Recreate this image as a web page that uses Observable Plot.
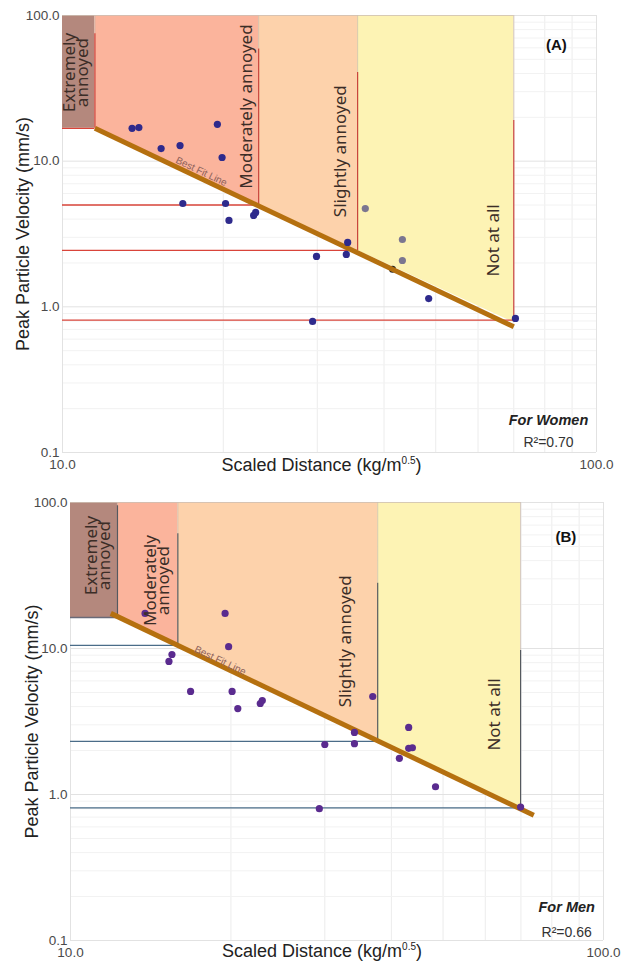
<!DOCTYPE html>
<html><head><meta charset="utf-8">
<script src="https://cdn.jsdelivr.net/npm/d3@7"></script>
<script src="https://cdn.jsdelivr.net/npm/@observablehq/plot@0.6"></script>
<style>
body{margin:0;background:#fff;width:624px;overflow:hidden}
.panel{width:624px;display:block;line-height:0}
</style>
</head><body>
<div id="panelA" class="panel"></div>
<div id="panelB" class="panel"></div>
<script>
// ---------- shared ----------
const zoneNames = ["Extremely annoyed", "Moderately annoyed", "Slightly annoyed", "Not at all"];
const zoneColors = ["#b4887d", "#fbb49c", "#fdd2ab", "#fdf3b4"];
const yTicks = [0.1, 1, 10, 100];
const xTicks = [10, 100];
const xMinor = [20, 30, 40, 50, 60, 70, 80, 90];
const yMinor = [0.2, 0.3, 0.4, 0.5, 0.6, 0.7, 0.8, 0.9, 2, 3, 4, 5, 6, 7, 8, 9, 20, 30, 40, 50, 60, 70, 80, 90];

// ---------- Panel A : women ----------
const womenZoneX0 = [10, 11.5, 23.3, 35.7];
const womenZoneX1 = [11.5, 23.3, 35.7, 70];
const womenZoneLow0 = [16.8, 16.8, 5.0, 2.44];
const womenZoneLow1 = [16.8, 5.0, 2.44, 0.78];
const womenRefY = [16.8, 5.0, 2.44, 0.81];
const womenRefXEnd = [11.5, 23.3, 35.7, 70];
const womenRefTop = [75, 59, 40.6, 19];
const womenLabelText = ["Extremely\nannoyed", "Moderately annoyed", "Slightly annoyed", "Not at all"];
const womenLabelX = [10.67, 22.2, 33.4, 64.4];
const womenLabelY = [40.6, 23.7, 11.7, 2.86];
const womenFitSD = [11.5, 70];
const womenFitPPV = [16.8, 0.73];
const womenSD  = [13.5, 13.9, 15.3, 16.6, 19.5, 19.9, 16.8, 20.2, 20.5, 22.8, 23.0, 36.9, 34.2, 34.0, 29.9, 43.3, 43.3, 48.5, 29.4, 70.5];
const womenPPV = [16.8, 17.0, 12.2, 12.8, 17.9, 10.6, 5.12, 5.12, 3.92, 4.24, 4.45, 4.73, 2.77, 2.29, 2.22, 2.90, 2.08, 1.14, 0.794, 0.832];
const womenGrey = [0, 0, 0, 0, 0, 0, 0, 0, 0, 0, 0, 1, 0, 0, 0, 1, 1, 0, 0, 0];
const womenHiddenSD = [41.5];
const womenHiddenPPV = [1.81];

// ---------- Panel B : men ----------
const menZoneX0 = [10, 12.25, 15.9, 37.7];
const menZoneX1 = [12.25, 15.9, 37.7, 69.9];
const menZoneLow0 = [16.3, 16.2, 10.5, 2.31];
const menZoneLow1 = [16.3, 10.5, 2.31, 0.79];
const menRefY = [16.3, 10.5, 2.31, 0.81];
const menRefXEnd = [12.25, 15.9, 37.7, 69.9];
const menRefTop = [95, 61, 28, 9.7];
const menLabelText = ["Extremely\nannoyed", "Moderately\nannoyed", "Slightly annoyed", "Not at all"];
const menLabelX = [11.34, 14.6, 33.0, 62.7];
const menLabelY = [43.3, 29.2, 11.2, 3.53];
const menFitSD = [11.9, 74];
const menFitPPV = [17.4, 0.72];
const menSD  = [13.8, 19.5, 19.8, 15.5, 15.3, 16.8, 20.1, 20.6, 22.7, 22.9, 36.9, 34.1, 34.1, 30.0, 43.1, 43.1, 43.8, 41.4, 48.4, 29.3, 69.9];
const menPPV = [17.4, 17.4, 10.3, 9.1, 8.15, 5.08, 5.08, 3.88, 4.20, 4.40, 4.69, 2.66, 2.23, 2.20, 2.88, 2.07, 2.09, 1.77, 1.13, 0.80, 0.82];

function makePanel(cfg) {
  const zones = [];
  cfg.zoneX0.forEach((x0, i) => {
    zones.push({zone: zoneNames[i], x: x0, low: cfg.zoneLow0[i]});
    zones.push({zone: zoneNames[i], x: cfg.zoneX1[i], low: cfg.zoneLow1[i]});
  });
  const refs = cfg.refY.map((y, i) => ({y, xEnd: cfg.refXEnd[i], top: cfg.refTop[i], i}));
  const labels = cfg.labelText.map((t, i) => ({t, x: cfg.labelX[i], y: cfg.labelY[i]}));
  const fit = cfg.fitSD.map((x, i) => ({x, y: cfg.fitPPV[i]}));
  const pts = cfg.sd.map((x, i) => ({x, y: cfg.ppv[i], g: cfg.grey ? cfg.grey[i] : 0}));
  const hidden = (cfg.hiddenSD || []).map((x, i) => ({x, y: cfg.hiddenPPV[i]}));
  const font = "'Liberation Sans', Arial, sans-serif";

  const svg = Plot.plot({
    width: 624,
    height: cfg.height,
    marginTop: cfg.mt, marginBottom: cfg.mb, marginLeft: cfg.ml, marginRight: cfg.mr,
    style: {fontFamily: font, fontSize: "13.5px", color: "#4a4a4a", background: "#fff"},
    x: {type: "log", domain: [10, 100], ticks: xTicks, tickFormat: d3.format(".1f"), tickSize: 0, tickPadding: 7,
        label: "Scaled Distance (kg/m0.5)", labelAnchor: "center", labelArrow: "none", labelOffset: cfg.xLabelOffset},
    y: {type: "log", domain: [0.1, 100], ticks: yTicks, tickFormat: d3.format(".1f"), tickSize: 0, tickPadding: 3,
        label: "Peak Particle Velocity (mm/s)", labelAnchor: "center", labelArrow: "none", labelOffset: cfg.yLabelOffset},
    marks: [
      Plot.gridX(xMinor, {stroke: "#ececec", strokeOpacity: 1}),
      Plot.gridY(yMinor, {stroke: "#f2f2f2", strokeOpacity: 1}),
      Plot.gridX(xTicks, {stroke: "#e2e2e2", strokeOpacity: 1}),
      Plot.gridY(yTicks, {stroke: "#e2e2e2", strokeOpacity: 1}),
      Plot.areaY(zones, {x: "x", y1: "low", y2: () => 100, z: "zone",
        fill: d => zoneColors[zoneNames.indexOf(d.zone)], fillOpacity: 1, curve: "linear"}),
      Plot.ruleX(refs, {x: "xEnd", y1: 100, y2: "top", stroke: "#c9b5a8", strokeWidth: 0.7}),
      Plot.ruleY([100], {x1: 10, x2: cfg.zoneX1[3], stroke: "#cdbfb4", strokeWidth: 0.8}),
      Plot.ruleY(refs, {y: "y", x1: 10, x2: "xEnd", stroke: d => d.i === 0 ? cfg.firstRefColor : cfg.refColor, strokeWidth: 1.4}),
      Plot.ruleX(refs, {x: "xEnd", y1: "top", y2: "y", stroke: cfg.vColor, strokeWidth: 1.2}),
      Plot.dot(hidden, {x: "x", y: "y", r: 3.5, fill: "#222", stroke: "none"}),
      Plot.line(fit, {x: "x", y: "y", stroke: "#b5700f", strokeWidth: 5, strokeLinecap: "butt"}),
      Plot.dot(pts, {x: "x", y: "y", r: 3.6, fill: d => d.g ? "#7b7690" : cfg.dotColor, stroke: "none"}),
      Plot.text(labels, {x: "x", y: "y", text: "t", rotate: -90, fontSize: 17, lineHeight: 0.78,
        fill: "#3b2d27", fontFamily: "'Noto Sans', 'Open Sans', sans-serif"}),
      Plot.text([cfg.fitLabel], {x: d => d.x, y: d => d.y, text: () => "Best Fit Line", rotate: cfg.fitAngle,
        fontSize: 10, fill: "#8e625a", fontFamily: font}),
      Plot.text([cfg.tag], {x: () => cfg.tagX, y: () => cfg.tagY, text: d => d, fontWeight: "bold", fontSize: 15,
        fill: "#111", fontFamily: font}),
      Plot.text([cfg.group], {x: () => cfg.noteX, y: () => cfg.groupY, text: d => d, fontWeight: "bold", fontStyle: "italic",
        fontSize: 14.5, fill: "#222", fontFamily: font}),
      Plot.text([cfg.r2], {x: () => cfg.noteX, y: () => cfg.r2Y, text: d => d, fontSize: 14,
        fill: "#333", fontFamily: font})
    ]
  });
  svg.querySelectorAll('[aria-label="x-axis label"] text, [aria-label="y-axis label"] text').forEach(t => {
    t.setAttribute("font-size", "18");
    t.style.fontSize = "18px";
    t.style.fill = "#222";
  });
  const xl = svg.querySelector('[aria-label="x-axis label"] text');
  if (xl) {
    xl.textContent = "";
    const ns = "http://www.w3.org/2000/svg";
    const a = document.createElementNS(ns, "tspan"); a.textContent = "Scaled Distance (kg/m"; a.setAttribute("dx", cfg.xLabelDx);
    const b = document.createElementNS(ns, "tspan"); b.textContent = "0.5"; b.setAttribute("dy", "-7"); b.setAttribute("font-size", "10");
    const c = document.createElementNS(ns, "tspan"); c.textContent = ")"; c.setAttribute("dy", "7");
    xl.append(a, b, c);
  }
  return svg;
}

document.getElementById("panelA").append(makePanel({
  height: 480, mt: 15, mb: 28, ml: 62, mr: 28, xLabelOffset: 18, yLabelOffset: 46, xLabelDx: -8,
  zoneX0: womenZoneX0, zoneX1: womenZoneX1, zoneLow0: womenZoneLow0, zoneLow1: womenZoneLow1,
  refY: womenRefY, refXEnd: womenRefXEnd, refTop: womenRefTop,
  refColor: "#d9443a", firstRefColor: "#d9443a", vColor: "#c8403a",
  labelText: womenLabelText, labelX: womenLabelX, labelY: womenLabelY,
  fitSD: womenFitSD, fitPPV: womenFitPPV, fitLabel: {x: 18.2, y: 8.49}, fitAngle: 25.5,
  sd: womenSD, ppv: womenPPV, grey: womenGrey, hiddenSD: womenHiddenSD, hiddenPPV: womenHiddenPPV,
  dotColor: "#2e2a8c",
  tag: "(A)", tagX: 84.1, tagY: 62.2, group: "For Women", noteX: 81.3, groupY: 0.166, r2: "R²=0.70", r2Y: 0.117
}));

document.getElementById("panelB").append(makePanel({
  height: 483, mt: 22, mb: 23, ml: 70, mr: 21, xLabelOffset: 16, yLabelOffset: 45, xLabelDx: -15,
  zoneX0: menZoneX0, zoneX1: menZoneX1, zoneLow0: menZoneLow0, zoneLow1: menZoneLow1,
  refY: menRefY, refXEnd: menRefXEnd, refTop: menRefTop,
  refColor: "#4a6c88", firstRefColor: "#6a6a78", vColor: "#55595f",
  labelText: menLabelText, labelX: menLabelX, labelY: menLabelY,
  fitSD: menFitSD, fitPPV: menFitPPV, fitLabel: {x: 19.1, y: 8.28}, fitAngle: 25.5,
  sd: menSD, ppv: menPPV, grey: null,
  dotColor: "#5a2b8f",
  tag: "(B)", tagX: 85, tagY: 57.6, group: "For Men", noteX: 85.3, groupY: 0.168, r2: "R²=0.66", r2Y: 0.1135
}));
</script>
</body></html>
